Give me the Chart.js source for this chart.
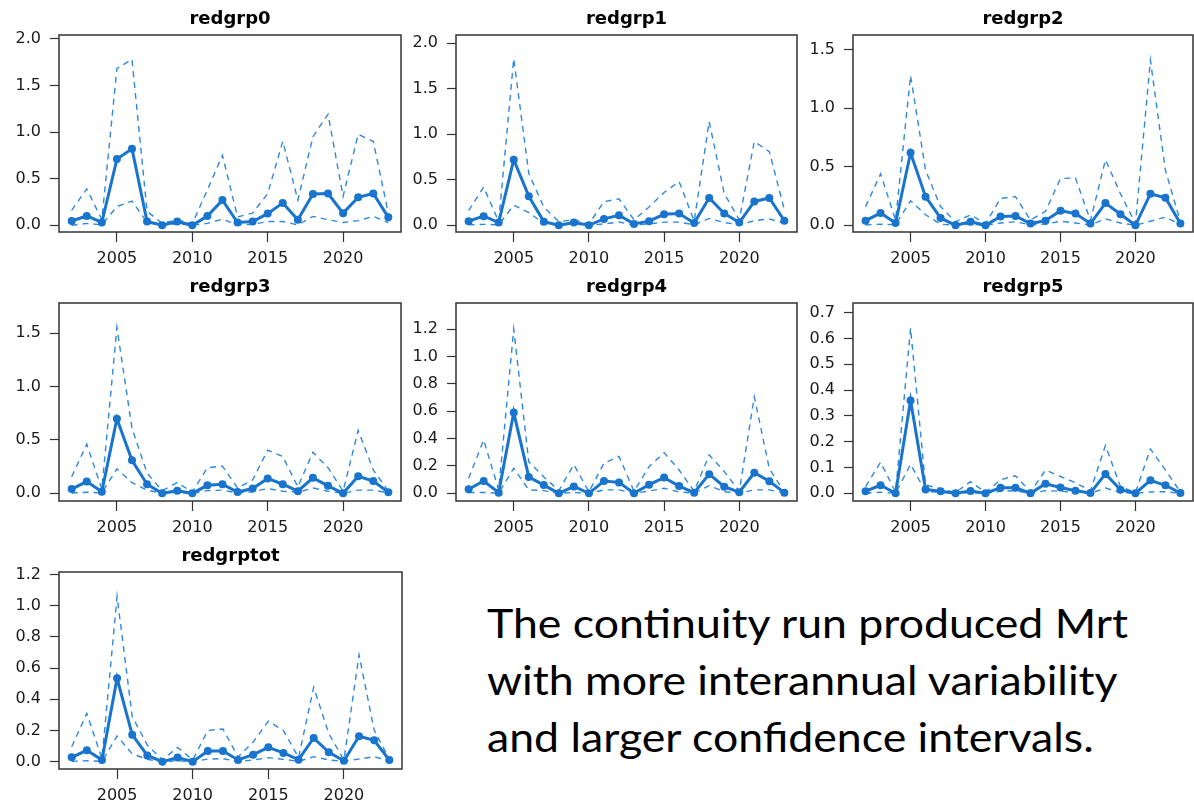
<!DOCTYPE html>
<html>
<head>
<meta charset="utf-8">
<title>redgrp Mrt</title>
<script src="https://cdn.jsdelivr.net/npm/chart.js@4/dist/chart.umd.min.js"></script>
<style>
  html, body { margin: 0; padding: 0; background: #fff; overflow: hidden; width: 1194px; height: 807px; }
  #note {
    position: absolute; left: 487px; top: 595px;
    font-family: Lato, "Open Sans", sans-serif; font-size: 40px; line-height: 57px;
    color: #000; white-space: nowrap; transform-origin: 0 0;
  }
</style>
</head>
<body>
<div id="note"><span id="noteFirst">The continuity run produced Mrt</span><br>with more interannual variability<br>and larger confidence intervals.</div>
<script>
// Years and axis ticks
const years = [2002, 2003, 2004, 2005, 2006, 2007, 2008, 2009, 2010, 2011, 2012,
               2013, 2014, 2015, 2016, 2017, 2018, 2019, 2020, 2021, 2022, 2023];
const xTicks = [2005, 2010, 2015, 2020];

// Mrt estimate (mean) with lower / upper confidence bounds, one set per group
const redgrp0Mean = [0.046, 0.10, 0.03, 0.71, 0.82, 0.04, 0.0, 0.04, 0.0, 0.10, 0.27, 0.03, 0.04, 0.125, 0.24, 0.06, 0.335, 0.34, 0.13, 0.30, 0.34, 0.085];
const redgrp0Hi   = [0.16, 0.39, 0.06, 1.68, 1.78, 0.15, 0.02, 0.06, 0.015, 0.38, 0.75, 0.09, 0.13, 0.34, 0.90, 0.27, 0.95, 1.19, 0.31, 0.975, 0.90, 0.13];
const redgrp0Lo   = [0.0, 0.02, 0.005, 0.20, 0.26, 0.03, 0.0, 0.015, 0.0, 0.02, 0.065, 0.005, 0.01, 0.04, 0.04, 0.005, 0.095, 0.06, 0.03, 0.05, 0.095, 0.03];

const redgrp1Mean = [0.045, 0.10, 0.03, 0.72, 0.32, 0.04, 0.0, 0.03, 0.0, 0.07, 0.11, 0.015, 0.045, 0.12, 0.13, 0.025, 0.30, 0.13, 0.03, 0.26, 0.30, 0.05];
const redgrp1Hi   = [0.16, 0.42, 0.04, 1.83, 0.57, 0.20, 0.04, 0.06, 0.015, 0.26, 0.29, 0.06, 0.20, 0.36, 0.48, 0.045, 1.14, 0.35, 0.06, 0.92, 0.81, 0.17];
const redgrp1Lo   = [0.005, 0.01, 0.005, 0.22, 0.14, 0.02, 0.0, 0.015, 0.0, 0.015, 0.035, 0.003, 0.015, 0.035, 0.035, 0.005, 0.075, 0.03, 0.005, 0.05, 0.07, 0.02];

const redgrp2Mean = [0.04, 0.105, 0.02, 0.62, 0.245, 0.063, 0.0, 0.03, 0.0, 0.075, 0.08, 0.015, 0.04, 0.125, 0.10, 0.015, 0.19, 0.095, 0.0, 0.27, 0.235, 0.015];
const redgrp2Hi   = [0.16, 0.44, 0.045, 1.28, 0.47, 0.16, 0.03, 0.09, 0.015, 0.23, 0.245, 0.045, 0.12, 0.40, 0.405, 0.04, 0.56, 0.27, 0.015, 1.41, 0.47, 0.03];
const redgrp2Lo   = [0.003, 0.01, 0.005, 0.21, 0.09, 0.01, 0.0, 0.01, 0.0, 0.02, 0.03, 0.003, 0.01, 0.035, 0.02, 0.003, 0.055, 0.02, 0.0, 0.035, 0.07, 0.008];

const redgrp3Mean = [0.04, 0.11, 0.015, 0.70, 0.31, 0.085, 0.0, 0.025, 0.0, 0.075, 0.085, 0.012, 0.045, 0.14, 0.085, 0.02, 0.145, 0.07, 0.0, 0.16, 0.115, 0.01];
const redgrp3Hi   = [0.155, 0.46, 0.04, 1.555, 0.61, 0.19, 0.025, 0.10, 0.012, 0.24, 0.255, 0.05, 0.125, 0.405, 0.345, 0.06, 0.385, 0.24, 0.02, 0.59, 0.22, 0.02];
const redgrp3Lo   = [0.003, 0.01, 0.005, 0.23, 0.10, 0.03, 0.0, 0.012, 0.0, 0.025, 0.03, 0.003, 0.015, 0.045, 0.02, 0.01, 0.05, 0.02, 0.0, 0.03, 0.03, 0.005];

const redgrp4Mean = [0.03, 0.09, 0.005, 0.59, 0.12, 0.06, 0.0, 0.05, 0.0, 0.09, 0.08, 0.0, 0.063, 0.115, 0.053, 0.005, 0.14, 0.048, 0.008, 0.15, 0.088, 0.005];
const redgrp4Hi   = [0.11, 0.39, 0.025, 1.20, 0.23, 0.12, 0.02, 0.21, 0.01, 0.22, 0.27, 0.015, 0.195, 0.297, 0.17, 0.015, 0.28, 0.16, 0.015, 0.705, 0.18, 0.008];
const redgrp4Lo   = [0.005, 0.007, 0.002, 0.183, 0.025, 0.02, 0.0, 0.007, 0.0, 0.025, 0.025, 0.0, 0.017, 0.037, 0.01, 0.002, 0.056, 0.012, 0.002, 0.025, 0.025, 0.002];

const redgrp5Mean = [0.008, 0.031, 0.0, 0.36, 0.015, 0.008, 0.0, 0.009, 0.0, 0.021, 0.021, 0.0, 0.037, 0.022, 0.01, 0.001, 0.075, 0.014, 0.0, 0.05, 0.031, 0.001];
const redgrp5Hi   = [0.026, 0.12, 0.005, 0.64, 0.032, 0.018, 0.003, 0.045, 0.003, 0.052, 0.068, 0.005, 0.09, 0.065, 0.041, 0.01, 0.185, 0.026, 0.003, 0.172, 0.09, 0.005];
const redgrp5Lo   = [0.001, 0.004, 0.0, 0.112, 0.006, 0.004, 0.0, 0.003, 0.0, 0.008, 0.01, 0.0, 0.01, 0.008, 0.003, 0.0, 0.02, 0.003, 0.0, 0.005, 0.006, 0.0];

const redgrptotMean = [0.028, 0.073, 0.011, 0.535, 0.173, 0.04, 0.0, 0.026, 0.0, 0.068, 0.068, 0.011, 0.045, 0.092, 0.056, 0.013, 0.152, 0.06, 0.006, 0.163, 0.137, 0.011];
const redgrptotHi   = [0.096, 0.31, 0.02, 1.06, 0.29, 0.107, 0.011, 0.092, 0.011, 0.20, 0.21, 0.03, 0.126, 0.26, 0.20, 0.026, 0.477, 0.18, 0.011, 0.685, 0.203, 0.015];
const redgrptotLo   = [0.002, 0.006, 0.002, 0.165, 0.05, 0.015, 0.0, 0.006, 0.0, 0.017, 0.019, 0.002, 0.011, 0.026, 0.015, 0.002, 0.032, 0.011, 0.002, 0.017, 0.032, 0.004];

// Y tick values per panel
const yTicksA = [0, 0.5, 1.0, 1.5, 2.0];
const yTicksB = [0, 0.5, 1.0, 1.5];
const yTicksC = [0, 0.2, 0.4, 0.6, 0.8, 1.0, 1.2];
const yTicksD = [0, 0.1, 0.2, 0.3, 0.4, 0.5, 0.6, 0.7];

// Panel layout: plot box [left, top, right, bottom] in page pixels and y range
const panels = [
  { title: 'redgrp0',   mean: redgrp0Mean,   hi: redgrp0Hi,   lo: redgrp0Lo,   yTicks: yTicksA, yMin: -0.072, yMax: 2.040, box: [59, 35, 402, 232] },
  { title: 'redgrp1',   mean: redgrp1Mean,   hi: redgrp1Hi,   lo: redgrp1Lo,   yTicks: yTicksA, yMin: -0.074, yMax: 2.091, box: [456, 35, 798, 232] },
  { title: 'redgrp2',   mean: redgrp2Mean,   hi: redgrp2Hi,   lo: redgrp2Lo,   yTicks: yTicksB, yMin: -0.057, yMax: 1.626, box: [853, 35, 1194, 232] },
  { title: 'redgrp3',   mean: redgrp3Mean,   hi: redgrp3Hi,   lo: redgrp3Lo,   yTicks: yTicksB, yMin: -0.072, yMax: 1.784, box: [59, 303, 402, 501] },
  { title: 'redgrp4',   mean: redgrp4Mean,   hi: redgrp4Hi,   lo: redgrp4Lo,   yTicks: yTicksC, yMin: -0.056, yMax: 1.390, box: [456, 303, 798, 501] },
  { title: 'redgrp5',   mean: redgrp5Mean,   hi: redgrp5Hi,   lo: redgrp5Lo,   yTicks: yTicksD, yMin: -0.030, yMax: 0.7376, box: [853, 303, 1194, 501] },
  { title: 'redgrptot', mean: redgrptotMean, hi: redgrptotHi, lo: redgrptotLo, yTicks: yTicksC, yMin: -0.047, yMax: 1.217, box: [59, 572, 403, 769] }
];

const FONT = '"DejaVu Sans", "Liberation Sans", sans-serif';
const LINE_BLUE = '#1874CD';
const DASH_BLUE = '#2f88de';
const AXIS_W = 60, TITLE_H = 35, XAXIS_H = 45, PAD_R = 3;

// Frame around the plotting region
const boxPlugin = {
  id: 'plotBox',
  afterDraw(chart) {
    const { ctx, chartArea: a } = chart;
    ctx.save();
    ctx.strokeStyle = '#333';
    ctx.lineWidth = 1.5;
    ctx.strokeRect(a.left, a.top, a.right - a.left, a.bottom - a.top);
    ctx.restore();
  }
};

const toPoints = arr => years.map((yr, i) => ({ x: yr, y: arr[i] }));

panels.forEach(p => {
  const [L, T, R, B] = p.box;
  const w = R - L + AXIS_W + PAD_R;
  const h = B - T + TITLE_H + XAXIS_H;
  const canvas = document.createElement('canvas');
  canvas.width = w;
  canvas.height = h;
  canvas.style.cssText = `position:absolute;left:${L - AXIS_W}px;top:${T - TITLE_H}px;width:${w}px;height:${h}px;`;
  document.body.appendChild(canvas);

  new Chart(canvas, {
    type: 'line',
    data: {
      datasets: [
        { label: 'mean', data: toPoints(p.mean), borderColor: LINE_BLUE, borderWidth: 3,
          pointRadius: 4, pointBackgroundColor: LINE_BLUE, pointBorderWidth: 0, tension: 0, order: 0 },
        { label: 'upper', data: toPoints(p.hi), borderColor: DASH_BLUE, borderWidth: 1.4,
          borderDash: [6, 5], pointRadius: 0, tension: 0, order: 1 },
        { label: 'lower', data: toPoints(p.lo), borderColor: DASH_BLUE, borderWidth: 1.4,
          borderDash: [6, 5], pointRadius: 0, tension: 0, order: 2 }
      ]
    },
    options: {
      responsive: false,
      animation: false,
      devicePixelRatio: 1,
      layout: { padding: { right: PAD_R } },
      plugins: {
        legend: { display: false },
        tooltip: { enabled: false },
        title: {
          display: true, text: p.title, color: '#000', fullSize: false,
          font: { family: FONT, size: 18, weight: 'bold', lineHeight: 1.2 },
          padding: { top: 9, bottom: TITLE_H - 9 - 21.6 }
        }
      },
      scales: {
        x: {
          type: 'linear', min: 2001.16, max: 2023.84,
          afterBuildTicks: s => { s.ticks = xTicks.map(v => ({ value: v })); },
          afterFit: s => { s.height = XAXIS_H; },
          grid: { drawOnChartArea: false, tickLength: 10, tickColor: '#333', tickWidth: 1.2 },
          border: { display: false },
          ticks: { padding: 7, color: '#1a1a1a', font: { family: FONT, size: 16 },
                   maxRotation: 0, autoSkip: false, callback: v => String(v) }
        },
        y: {
          min: p.yMin, max: p.yMax,
          afterBuildTicks: s => { s.ticks = p.yTicks.map(v => ({ value: v })); },
          afterFit: s => { s.width = AXIS_W; },
          grid: { drawOnChartArea: false, tickLength: 9, tickColor: '#333', tickWidth: 1.2 },
          border: { display: false },
          ticks: { padding: 9, color: '#1a1a1a', font: { family: FONT, size: 16 },
                   autoSkip: false, callback: v => Number(v).toFixed(1) }
        }
      }
    },
    plugins: [boxPlugin]
  });
});

// Fit the note's first line to its intended width (px)
const noteLineWidth = 641;
const first = document.getElementById('noteFirst').getBoundingClientRect().width;
if (first > 0) {
  document.getElementById('note').style.transform = `scaleX(${noteLineWidth / first})`;
}
</script>
</body>
</html>
